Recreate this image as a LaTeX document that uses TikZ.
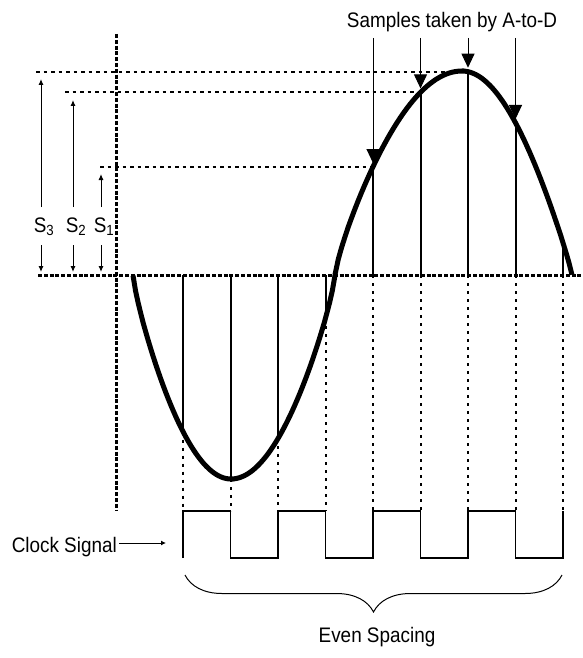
\documentclass[tikz,border=0pt]{standalone}
\usepackage{fontspec}
\setmainfont{Liberation Sans}[FakeStretch=0.9]
\usetikzlibrary{arrows.meta,decorations.pathreplacing}

\begin{document}
\begin{tikzpicture}[
  x=1pt, y=-1pt,
  >=Latex,
  every node/.style={font=\fontsize{21}{24}\selectfont, inner sep=2pt},
  axis/.style={line width=3pt, dash pattern=on 4pt off 1.8pt},
  level/.style={line width=1.8pt, dash pattern=on 3.5pt off 4pt},
  guide/.style={line width=2pt, dash pattern=on 3pt off 5pt},
  sample/.style={line width=2pt},
  wave/.style={line width=5pt},
  span/.style={line width=1pt, -{Latex[length=6pt,width=5pt]}},
  pointer/.style={line width=1pt, -{Triangle[length=14pt,width=13pt]}},
  clock/.style={line width=1.1pt},
  slabel/.style={anchor=base, inner ysep=10pt}
]
\useasboundingbox (0,0) rectangle (583,658);

% Sample instants: x, and height of the wave there
\foreach \i/\x/\y in {1/183/431.5, 2/230.5/479, 3/278/438, 4/325.5/318,
                      5/373/167, 6/420.5/92.4, 7/468/71.7, 8/515.5/123,
                      9/563/243} {
  \coordinate (t\i) at (\x,\y);
  \coordinate (a\i) at (\x,275);
  \coordinate (c\i) at (\x,511);
}
\coordinate (top) at (0,38);

% ------------------------------------------------------------------
% Axes and sample levels
% ------------------------------------------------------------------
\draw[axis] (116,34) -- (116,510);
\draw[axis] (38,275) -- (583,275);

\draw[level] (36,0 |- t7) -- (t7);
\draw[level] (65,0 |- t6) -- (t6);
\draw[level] (100,0 |- t5) -- (t5);

\foreach \n/\x/\y in {3/41/79, 2/73/100, 1/101/174} {
  \node[slabel] (s\n) at (\x+3,232) {S\textsubscript{\n}};
  \coordinate (u\n) at (\x,\y);
  \coordinate (d\n) at (\x,272);
  \draw[span] (s\n.north -| u\n) -- (u\n);
  \draw[span] (s\n.south -| d\n) -- (d\n);
}

% ------------------------------------------------------------------
% Samples and the wave
% ------------------------------------------------------------------
\foreach \i in {1,...,4}
  \draw[guide] (t\i) -- (c\i);
\foreach \i in {5,...,9}
  \draw[guide] (a\i) -- (c\i);
\foreach \i in {1,...,9}
  \draw[sample] (a\i) -- (t\i);

\draw[wave]
  plot[domain=0.05:90, samples=40, variable=\t]
    ({133+98*\t/90},{275+204*pow(sin(\t),0.8)})
  -- plot[domain=0:89.95, samples=40, variable=\t]
    ({231+104*\t/90},{275+204*pow(cos(\t),0.8)})
  -- plot[domain=0.05:90, samples=40, variable=\t]
    ({335+127*\t/90},{275-204*pow(sin(\t),0.8)})
  -- plot[domain=0:89.95, samples=40, variable=\t]
    ({462+110*\t/90},{275-204*pow(cos(\t),0.9)});

\node[anchor=base] (adc) at (452,28) {Samples taken by A-to-D};
\foreach \i in {5,...,8}
  \draw[pointer, shorten >=4pt] (t\i |- top) -- (t\i);

% ------------------------------------------------------------------
% Clock
% ------------------------------------------------------------------
\draw[clock] (183,558) |- (230.5,511) |- (278,558) |- (325.5,511)
  |- (373,558) |- (420.5,511) |- (468,558) |- (515.5,511)
  |- (563,558) -- (563,511);

\node[anchor=base east] (clk) at (119,552) {Clock Signal};
\coordinate (clkin) at (166,543);
\draw[line width=1pt, -{Latex[length=5pt,width=5pt]}]
  (clk.east |- clkin) -- (clkin);

\draw[line width=1pt, decorate, decoration={brace, amplitude=37pt}]
  (562,575) -- (185,575);
\node[anchor=base] (even) at (377,642) {Even Spacing};

\end{tikzpicture}
\end{document}
